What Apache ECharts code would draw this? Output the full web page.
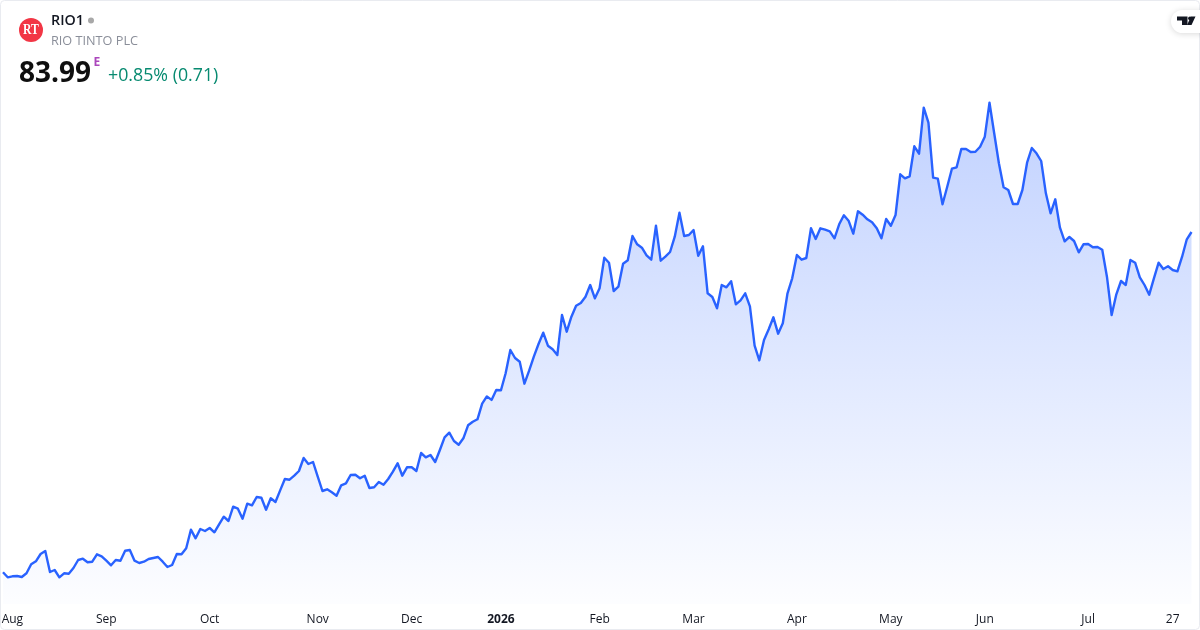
<!DOCTYPE html>
<html>
<head>
<meta charset="utf-8">
<style>html,body{margin:0;padding:0;background:#fff}#c{width:1200px;height:630px}</style>
<script src="https://cdn.jsdelivr.net/npm/echarts@6/dist/echarts.min.js"></script>
</head>
<body>
<div id="c"></div>
<script>
const prices = [
49.96,49.46,49.56,49.59,49.49,49.86,50.76,51.06,51.79,52.09,
49.99,50.19,49.46,49.86,49.82,50.39,51.19,51.32,50.96,51.02,
51.76,51.56,51.12,50.66,51.19,51.12,52.12,52.19,51.12,50.89,
51.02,51.29,51.39,51.49,51.02,50.49,50.69,51.79,51.76,52.36,
54.22,53.36,54.29,54.09,54.39,53.96,54.76,55.52,55.09,56.52,
56.32,55.32,56.82,56.66,57.49,57.42,56.22,57.36,56.99,58.15,
59.29,59.22,59.62,60.09,61.39,60.79,60.99,59.52,58.09,58.26,
57.96,57.62,58.66,58.86,59.69,59.72,59.36,59.62,58.39,58.46,
58.99,58.72,59.29,60.02,60.86,59.62,60.46,60.46,60.09,61.89,
61.46,61.69,60.99,62.19,63.46,63.92,63.09,62.72,63.36,64.66,
65.02,65.26,66.82,67.55,67.20,68.19,68.16,69.86,72.19,71.39,
71.02,68.82,70.12,71.52,72.79,73.92,72.62,72.26,71.69,75.69,
74.02,75.52,76.62,76.89,77.52,78.69,77.36,78.36,81.42,80.92,
78.09,78.52,80.82,81.16,83.59,82.76,82.42,81.66,81.22,84.62,
81.12,81.52,81.99,83.52,85.92,83.59,83.69,84.19,81.62,82.56,
77.86,77.49,76.36,78.69,78.46,79.06,76.76,77.16,77.86,76.56,
72.62,71.16,73.19,74.26,75.46,73.82,74.86,77.86,79.36,81.69,
81.22,81.39,84.36,83.29,84.36,84.22,84.06,83.36,84.76,85.66,
85.12,83.82,86.06,85.72,85.26,84.96,84.36,83.36,85.29,84.62,
85.69,89.76,89.36,89.56,92.56,91.82,96.42,94.92,89.42,89.32,
86.76,88.52,90.32,90.46,92.29,92.29,91.99,92.02,92.52,93.52,
96.92,93.86,90.86,88.46,88.19,86.79,86.79,88.19,90.92,92.39,
91.86,91.09,87.86,85.86,87.26,84.42,83.06,83.49,83.09,81.96,
82.76,82.79,82.46,82.49,82.22,79.52,75.69,77.76,79.09,78.69,
81.19,80.92,79.46,78.69,77.72,79.36,80.92,80.29,80.56,80.19,
80.06,81.52,83.26,83.99
];
const tickLabels = ['Aug','Sep','Oct','Nov','Dec','2026','Feb','Mar','Apr','May','Jun','Jul','27'];
const tickIndex  = [2,22,44,67,87,106,127,147,169,189,209,231,249];
const categories = prices.map((_, i) => {
  const k = tickIndex.indexOf(i);
  return k >= 0 ? tickLabels[k] : '';
});
const FONT = '"Open Sans", sans-serif';
const chart = echarts.init(document.getElementById('c'), null, {renderer:'canvas'});
chart.setOption({
  animation:false,
  backgroundColor:'#ffffff',
  grid:{left:3,right:8.5,top:0,bottom:26,containLabel:false,outerBoundsMode:'none'},
  xAxis:{
    type:'category',boundaryGap:false,data:categories,
    axisLine:{show:false},axisTick:{show:false},splitLine:{show:false},
    axisLabel:{
      interval:0,hideOverlap:false,margin:9.5,fontFamily:FONT,fontSize:12,color:'#131722',
      formatter:v=>v==='2026'?'{b|2026}':v,
      rich:{b:{fontFamily:FONT,fontSize:12,fontWeight:'bold',color:'#131722'}}
    }
  },
  yAxis:{type:'value',min:46.79,max:107.19,show:false,splitLine:{show:false}},
  series:[{
    type:'line',data:prices,symbol:'none',smooth:false,
    lineStyle:{color:'#2962ff',width:2.4,join:'round'},
    areaStyle:{origin:'start',opacity:1,color:{type:'linear',global:true,x:0,y:100,x2:0,y2:625,colorStops:[
      {offset:0,color:'rgba(41,98,255,0.29)'},{offset:1,color:'rgba(41,98,255,0)'}
    ]}}
  }],
  graphic:[
    {type:'rect',z:50,shape:{x:0.5,y:0.5,width:1199,height:629,r:4},style:{fill:'none',stroke:'#e9ebf0',lineWidth:1}},
    {type:'circle',z:60,shape:{cx:31,cy:30,r:12},style:{fill:'#f23645'}},
    {type:'text',z:61,x:31,y:30,scaleX:0.78,style:{text:'RT',fill:'#fff',font:'bold 15px "Liberation Serif", serif',align:'center',verticalAlign:'middle'}},
    {type:'text',z:61,x:51,y:21,style:{text:'RIO1',fill:'#131722',font:'600 14.3px '+FONT,verticalAlign:'middle'}},
    {type:'circle',z:61,shape:{cx:91,cy:20.5,r:3},style:{fill:'#a8a8a8'}},
    {type:'text',z:61,x:51,y:41,style:{text:'RIO TINTO PLC',fill:'#8a8e99',font:'12.7px '+FONT,verticalAlign:'middle'}},
    {type:'text',z:61,x:19,y:74,style:{text:'83.99',fill:'#0f0f0f',font:'bold 28px '+FONT,verticalAlign:'middle'}},
    {type:'text',z:61,x:93.5,y:62.5,style:{text:'E',fill:'#ab47bc',font:'bold 12px '+FONT,verticalAlign:'middle'}},
    {type:'text',z:61,x:108,y:75.5,style:{text:'+0.85% (0.71)',fill:'#078a70',font:'17.8px '+FONT,verticalAlign:'middle'}},
    {type:'rect',z:60,shape:{x:1171,y:10,width:40,height:23,r:11.5},style:{fill:'#fff',shadowBlur:6,shadowColor:'rgba(0,0,0,0.15)',shadowOffsetY:1}},
    {type:'polygon',z:61,shape:{points:[[1177,16.5],[1187.5,16.5],[1187.5,25],[1182,25],[1182,20.5],[1177,20.5]]},style:{fill:'#131722'}},
    {type:'circle',z:61,shape:{cx:1190,cy:18.3,r:1.9},style:{fill:'#131722'}},
    {type:'polygon',z:61,shape:{points:[[1191.5,25],[1187,25],[1191,16.5],[1195.5,16.5]]},style:{fill:'#131722'}}
  ]
});
</script>
</body>
</html>
